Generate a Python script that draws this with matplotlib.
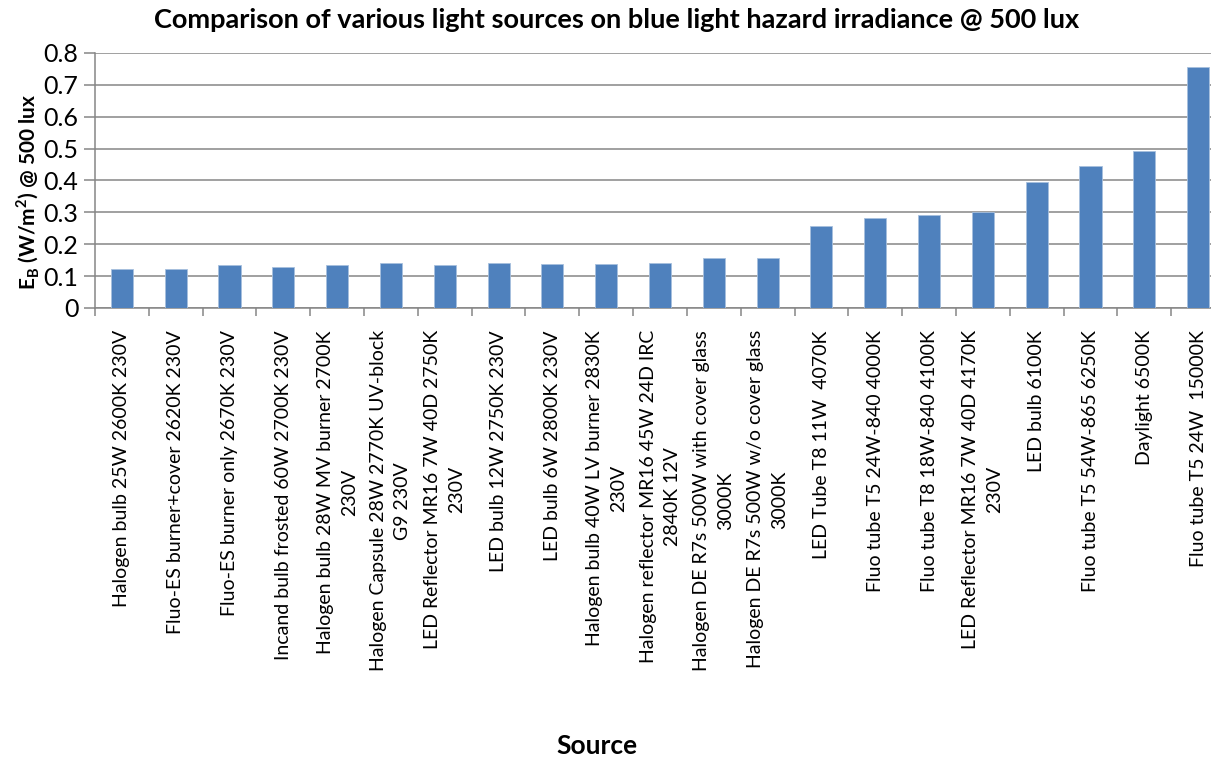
import matplotlib
matplotlib.use("Agg")
import matplotlib.pyplot as plt
import numpy as np

plt.rcParams["font.family"] = ["Lato", "DejaVu Sans"]

TITLE = "Comparison of various light sources on blue light hazard irradiance @ 500 lux"
X_LABEL = "Source"
Y_LABEL = r"E$_\mathregular{B}$ (W/m$^\mathregular{2}$) @ 500 lux"

SOURCES = [
    "Halogen bulb 25W 2600K 230V",
    "Fluo-ES burner+cover 2620K 230V",
    "Fluo-ES burner only 2670K 230V",
    "Incand bulb frosted 60W 2700K 230V",
    "Halogen bulb 28W MV burner 2700K\n230V",
    "Halogen Capsule 28W 2770K UV-block\nG9 230V",
    "LED Reflector MR16 7W 40D 2750K\n230V",
    "LED bulb 12W 2750K 230V",
    "LED bulb 6W 2800K 230V",
    "Halogen bulb 40W LV burner 2830K\n230V",
    "Halogen reflector MR16 45W 24D IRC\n2840K 12V",
    "Halogen DE R7s 500W with cover glass\n3000K",
    "Halogen DE R7s 500W w/o cover glass\n3000K",
    "LED Tube T8 11W  4070K",
    "Fluo tube T5 24W-840 4000K",
    "Fluo tube T8 18W-840 4100K",
    "LED Reflector MR16 7W 40D 4170K\n230V",
    "LED bulb 6100K",
    "Fluo tube T5 54W-865 6250K",
    "Daylight 6500K",
    "Fluo tube T5 24W  15000K",
]
IRRADIANCE = [0.121, 0.121, 0.134, 0.130, 0.134, 0.141, 0.134, 0.141, 0.137,
              0.137, 0.140, 0.157, 0.157, 0.258, 0.281, 0.291, 0.300, 0.396,
              0.447, 0.491, 0.757]
Y_TICKS = [0, 0.1, 0.2, 0.3, 0.4, 0.5, 0.6, 0.7, 0.8]

BAR_COLOR = "#4F81BD"
GRID_COLOR = "#868686"

fig = plt.figure(figsize=(12.11, 7.60), dpi=100)
# plot area slightly wider than the canvas (the original is cropped at the right)
ax = fig.add_axes([95 / 1211, 1 - 308 / 760, 1130 / 1211, 255 / 760])

x = np.arange(len(SOURCES))
ax.bar(x, IRRADIANCE, width=0.41, color=BAR_COLOR, edgecolor="#A7C0DE",
       linewidth=0.6, zorder=3)

ax.set_xlim(-0.5, len(SOURCES) - 0.5)
ax.set_ylim(0, 0.8)
ax.set_yticks(Y_TICKS)
ax.set_yticklabels(["0" if v == 0 else f"{v:.1f}" for v in Y_TICKS],
                   fontsize=18)
ax.yaxis.grid(True, color=GRID_COLOR, linewidth=1.1, zorder=0)
ax.tick_params(axis="y", direction="out", length=8, color=GRID_COLOR,
               width=1.1, pad=4)

ax.set_xticks(x)
ax.set_xticklabels(SOURCES, rotation=90, fontsize=14, ha="center",
                   va="top", multialignment="center", linespacing=1.5)
ax.set_xticks(np.arange(-0.5, len(SOURCES), 1), minor=True)
ax.tick_params(axis="x", which="major", length=0, pad=16)
ax.tick_params(axis="x", which="minor", direction="out", length=6,
               color=GRID_COLOR, width=1.1)

for side in ("top", "right"):
    ax.spines[side].set_visible(False)
for side in ("left", "bottom"):
    ax.spines[side].set_color(GRID_COLOR)
    ax.spines[side].set_linewidth(1.1)

fig.text(617 / 1211, 1 - 20 / 760, TITLE, ha="center", va="center",
         fontsize=19.5, fontweight="bold")
fig.text(597 / 1211, 1 - 746 / 760, X_LABEL, ha="center", va="center",
         fontsize=19, fontweight="bold")
fig.text(28 / 1211, 1 - 192 / 760, Y_LABEL, ha="center", va="center",
         rotation=90, fontsize=15, fontweight="bold")

fig.savefig("out.png", dpi=100)
